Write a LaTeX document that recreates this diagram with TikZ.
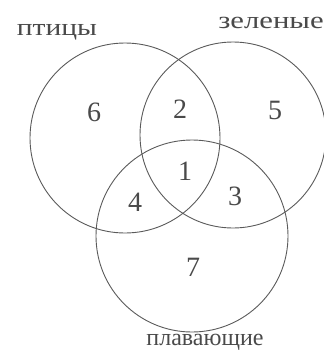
\documentclass[tikz,border=0pt]{standalone}
\usepackage{fontspec}
\setmainfont{Liberation Serif}
\definecolor{ink}{HTML}{4A4A4A}
\definecolor{rim}{HTML}{5A5A5A}
\begin{document}
\begin{tikzpicture}[x=1pt,y=-1pt]
        \useasboundingbox (0,0) rectangle (324,354);
        % Draw sets
        \draw[rim,line width=0.9pt] (125,138) circle[radius=95pt];
        \draw[rim,line width=0.9pt] (233,135) circle[radius=93pt];
        \draw[rim,line width=0.9pt] (192,236) circle[radius=96pt];
        % Label sets
        \node[ink,font=\fontsize{24}{26}\selectfont] (birds) at (57,32) {\scalebox{1.23}[1]{птицы}};
        \node[ink,font=\fontsize{24}{26}\selectfont] (green) at (271,23) {\scalebox{1.28}[1]{зеленые}};
        \node[ink,font=\fontsize{24}{26}\selectfont] (swim) at (205,342) {плавающие};
        % Number regions
        \foreach \n/\x/\y in {6/94/112,2/180/109,5/275/110,1/185/171,4/135/202,3/235/196,7/193/267}
            \node[ink,font=\fontsize{28}{30}\selectfont] (r\n) at (\x,\y) {\n};
\end{tikzpicture}
\end{document}
